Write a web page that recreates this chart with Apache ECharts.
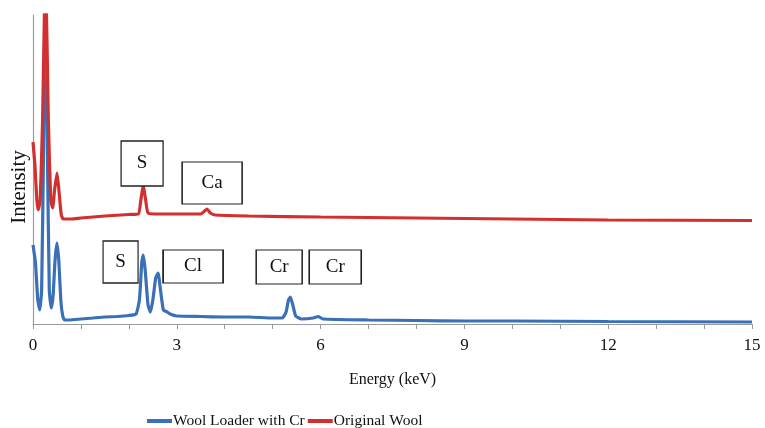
<!DOCTYPE html>
<html>
<head>
<meta charset="utf-8">
<script src="https://cdn.jsdelivr.net/npm/echarts@6/dist/echarts.min.js"></script>
<style>
html,body{margin:0;padding:0;background:#fff;}
#chart{width:765px;height:428px;}
</style>
</head>
<body>
<div id="chart"></div>
<script>
// Energy (keV) and intensity (arbitrary units)
const blueEnergy = [0.00,0.05,0.10,0.14,0.18,0.22,0.26,0.30,0.34,0.38,0.42,0.46,0.50,0.54,0.58,0.62,0.66,0.75,1.0,1.25,1.5,1.75,2.0,2.15,2.22,2.27,2.30,2.34,2.40,2.45,2.50,2.56,2.61,2.66,2.72,2.80,2.86,3.0,3.5,4.0,4.5,5.0,5.2,5.28,5.33,5.37,5.42,5.48,5.6,5.85,5.95,6.05,7,8,9,10,12,15];
const blueIntensity = [79,62,24,14,34,174,340,174,34,16,29,64,81,62,24,8,4,4,5,6,7,7.5,8.5,10,24,62,69,54,19,12,24,46,51,34,14,12,10,8,7.5,7,7,6,6,12,24,27,19,8,5,6,7.5,5,4,3.5,3,3,2.5,2];
const redEnergy = [0.00,0.04,0.08,0.11,0.15,0.20,0.26,0.32,0.37,0.41,0.45,0.50,0.54,0.59,0.63,0.8,1.0,1.5,2.0,2.2,2.25,2.30,2.35,2.40,2.6,3.0,3.5,3.58,3.63,3.70,3.8,4.5,6,8,10,12,15];
const redIntensity = [182,159,124,114,124,204,360,204,124,116,134,151,134,109,105,105,106,108,109.5,110,124,139,124,111,110,110,110,113,115,111,109,108,107,106,105,104,103.5];
const xTicks = [0,3,6,9,12,15];
const seriesNames = ['Wool Loader with Cr','Original Wool'];
// peak annotations
const redLabels = ['S','Ca'];
const redLabelEnergy = [2.276,3.737];
const redLabelIntensity = [160.5,141];
const blueLabels = ['S','Cl','Cr','Cr'];
const blueLabelEnergy = [1.827,3.34,5.136,6.305];
const blueLabelIntensity = [62,57.5,57,57];

const FONT = '"Liberation Serif", "DejaVu Serif", serif';
const redBoxSizes = [[42,45],[60,42]];
const blueBoxSizes = [[35,42],[60,33],[46,34],[52,34]];

function pairs(xs, ys){ return xs.map((x,i)=>[x, ys[i]]); }
function marks(labels, xs, ys, sizes){
  return labels.map((l,i)=>({
    name:l, coord:[xs[i], ys[i]], value:l,
    symbol:'rect', symbolSize: sizes[i],
    itemStyle:{color:'#fff', borderColor:'#222', borderWidth:1.3},
    label:{show:true, position:'inside', formatter:l, color:'#111', fontFamily:FONT, fontSize:19}
  }));
}

const chart = echarts.init(document.getElementById('chart'));
chart.setOption({
  animation:false,
  textStyle:{fontFamily:FONT},
  grid:{left:33, right:13, top:15, bottom:104, containLabel:false},
  xAxis:{
    type:'value', min:0, max:15, interval:1,
    axisLine:{show:true, lineStyle:{color:'#9a9a9a', width:1.2}},
    axisTick:{show:true, length:5, lineStyle:{color:'#9a9a9a'}},
    splitLine:{show:false},
    axisLabel:{margin:13, color:'#111', fontFamily:FONT, fontSize:17, showMinLabel:true, showMaxLabel:true,
      formatter:v=> xTicks.includes(v) ? String(v) : ''},
    name:'Energy (keV)', nameLocation:'middle', nameGap:48,
    nameTextStyle:{color:'#111', fontFamily:FONT, fontSize:16}
  },
  yAxis:{
    type:'value', min:0, max:309,
    axisLine:{show:true, lineStyle:{color:'#9a9a9a', width:1.2}},
    axisTick:{show:false}, axisLabel:{show:false}, splitLine:{show:false}
  },
  legend:{
    left:142, top:408, icon:'rect', itemWidth:25, itemHeight:4, itemGap:3,
    textStyle:{color:'#111', fontFamily:FONT, fontSize:15.5, padding:[0,0,0,-4]},
    data:seriesNames
  },
  graphic:[{
    type:'text', x:19, y:187, rotation:Math.PI/2,
    style:{text:'Intensity', fill:'#111', font:'21px "Liberation Serif", serif', textAlign:'center', textVerticalAlign:'middle'}
  }],
  series:[
    {
      name:seriesNames[0], type:'line', data:pairs(blueEnergy, blueIntensity),
      showSymbol:false, smooth:0.15, color:'#3a70b5',
      lineStyle:{width:3.2, color:'#3a70b5'}, clip:true, z:2,
      markPoint:{data:marks(blueLabels, blueLabelEnergy, blueLabelIntensity, blueBoxSizes), z:5}
    },
    {
      name:seriesNames[1], type:'line', data:pairs(redEnergy, redIntensity),
      showSymbol:false, smooth:0.15, color:'#d2302f',
      lineStyle:{width:3.2, color:'#d2302f'}, clip:true, z:3,
      markPoint:{data:marks(redLabels, redLabelEnergy, redLabelIntensity, redBoxSizes), z:5}
    }
  ]
});
</script>
</body>
</html>
